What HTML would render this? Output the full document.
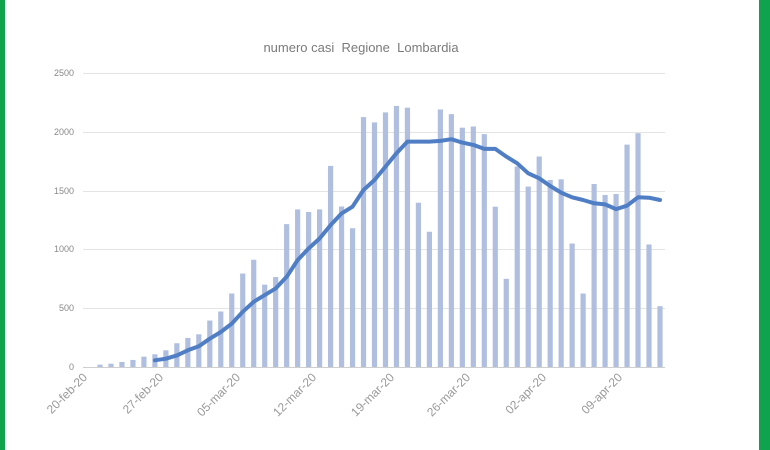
<!DOCTYPE html>
<html><head><meta charset="utf-8"><style>
html,body{margin:0;padding:0;background:#fff;width:770px;height:450px;overflow:hidden}
svg{display:block;font-family:"Liberation Sans",sans-serif}
</style></head><body>
<svg id="s" width="770" height="450" viewBox="0 0 770 450">
<rect x="0" y="0" width="5" height="450" fill="#10a34e"/>
<rect x="759" y="0" width="11" height="450" fill="#10a34e"/>
<text x="361" y="52" text-anchor="middle" font-size="13" fill="#7a7a7a">numero casi&#160; Regione&#160; Lombardia</text>
<g stroke="#e4e4e4" stroke-width="1">
<line x1="83" y1="73.5" x2="665" y2="73.5"/>
<line x1="83" y1="132.5" x2="665" y2="132.5"/>
<line x1="83" y1="191.5" x2="665" y2="191.5"/>
<line x1="83" y1="249.5" x2="665" y2="249.5"/>
<line x1="83" y1="308.5" x2="665" y2="308.5"/>
</g>
<line x1="83" y1="367.5" x2="665" y2="367.5" stroke="#cfcfcf"/>
<g font-size="9" fill="#888" text-anchor="end">
<text x="74" y="76">2500</text>
<text x="74" y="135">2000</text>
<text x="74" y="194">1500</text>
<text x="74" y="252">1000</text>
<text x="74" y="311">500</text>
<text x="74" y="370">0</text>
</g>
<g id="bars" fill="#b0bfe0"></g>
<polyline id="ma" fill="none" stroke="#4f7ec4" stroke-width="4" stroke-linejoin="round" stroke-linecap="round"/>
<g font-size="12" fill="#999" text-anchor="end">
<text transform="translate(88,378) rotate(-45)">20-feb-20</text>
<text transform="translate(164,378) rotate(-45)">27-feb-20</text>
<text transform="translate(241,378) rotate(-45)">05-mar-20</text>
<text transform="translate(317,378) rotate(-45)">12-mar-20</text>
<text transform="translate(395,378) rotate(-45)">19-mar-20</text>
<text transform="translate(471,378) rotate(-45)">26-mar-20</text>
<text transform="translate(547,378) rotate(-45)">02-apr-20</text>
<text transform="translate(623,378) rotate(-45)">09-apr-20</text>
</g>
</svg>
<script>
var v=[20,28,43,60,88,108,142,202,247,278,395,472,625,795,912,700,765,1215,1340,1318,1340,1710,1365,1180,2125,2080,2165,2220,2205,1397,1150,2190,2150,2035,2045,1980,1363,750,1705,1534,1790,1590,1596,1050,625,1556,1463,1471,1891,1988,1042,517];
var m=[57,71,99,142,176,241,298,369,469,554,611,668,767,909,1008,1093,1207,1306,1363,1505,1590,1704,1818,1917,1917,1917,1923,1937,1908,1889,1855,1855,1789,1732,1647,1605,1539,1482,1443,1420,1392,1383,1343,1372,1443,1440,1420];
var g=document.getElementById('bars'),ns='http://www.w3.org/2000/svg',k=294/2500,pts=[];
for(var i=0;i<v.length;i++){var x=100+i*10.98,h=v[i]*k;var r=document.createElementNS(ns,'rect');r.setAttribute('x',x-2.6);r.setAttribute('y',367-h);r.setAttribute('width',5.2);r.setAttribute('height',h);g.appendChild(r);}
for(var j=0;j<m.length;j++){var i2=j+5;pts.push((100+i2*10.98).toFixed(1)+','+(367-m[j]*k).toFixed(1));}
document.getElementById('ma').setAttribute('points',pts.join(' '));
</script>
</body></html>
